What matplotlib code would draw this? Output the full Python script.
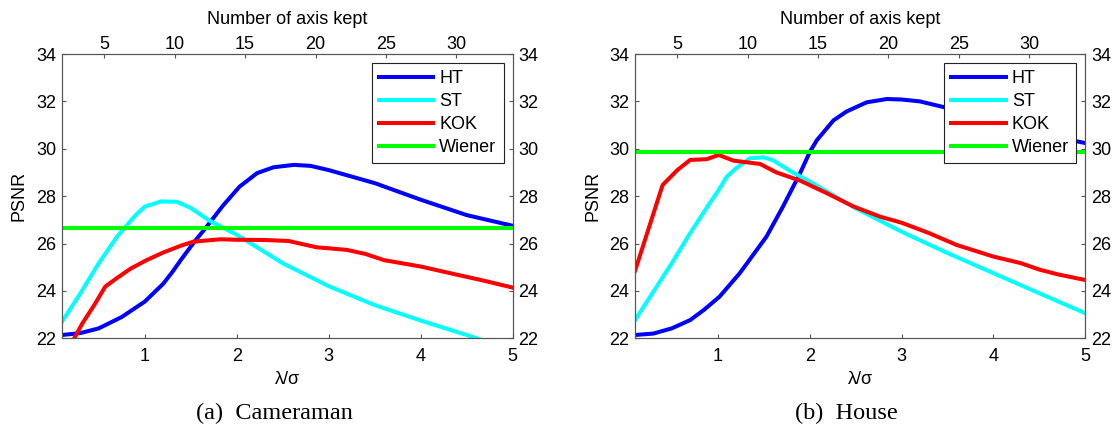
import matplotlib
matplotlib.use("Agg")
import matplotlib.pyplot as plt

plt.rcParams["font.family"] = ["Liberation Sans", "DejaVu Sans"]

# ---- (a) Cameraman ----
cam_ht_x = [0.1, 0.3, 0.5, 0.75, 1.0, 1.2, 1.3, 1.4, 1.54, 1.66, 1.85, 2.03, 2.22, 2.4, 2.62, 2.8, 3.0, 3.5, 4.0, 4.5, 5.0]
cam_ht_y = [22.14, 22.22, 22.42, 22.9, 23.55, 24.3, 24.8, 25.35, 26.08, 26.65, 27.6, 28.4, 28.97, 29.22, 29.32, 29.28, 29.1, 28.55, 27.85, 27.2, 26.75]

cam_st_x = [0.1, 0.3, 0.5, 0.7, 0.9, 1.0, 1.18, 1.35, 1.5, 1.71, 2.0, 2.5, 3.0, 3.5, 4.0, 4.5, 5.0]
cam_st_y = [22.7, 23.9, 25.17, 26.3, 27.2, 27.56, 27.78, 27.76, 27.5, 26.95, 26.37, 25.17, 24.2, 23.4, 22.75, 22.14, 21.5]

cam_kok_x = [0.1, 0.24, 0.32, 0.45, 0.57, 0.7, 0.85, 1.02, 1.2, 1.4, 1.53, 1.82, 2.0, 2.3, 2.56, 2.87, 3.0, 3.2, 3.4, 3.6, 4.0, 4.4, 4.7, 5.0]
cam_kok_y = [21.1, 22.05, 22.62, 23.4, 24.18, 24.55, 24.95, 25.3, 25.62, 25.92, 26.08, 26.18, 26.16, 26.15, 26.11, 25.84, 25.8, 25.73, 25.56, 25.3, 25.03, 24.68, 24.42, 24.14]

cam_wiener = 26.65

# ---- (b) House ----
hou_ht_x = [0.1, 0.3, 0.5, 0.7, 0.85, 1.02, 1.24, 1.4, 1.53, 1.71, 1.9, 2.0, 2.08, 2.26, 2.4, 2.62, 2.84, 3.0, 3.2, 3.5, 4.0, 4.5, 4.9, 5.0]
hou_ht_y = [22.14, 22.2, 22.42, 22.77, 23.2, 23.76, 24.75, 25.6, 26.29, 27.56, 29.0, 29.85, 30.37, 31.2, 31.57, 31.96, 32.1, 32.08, 32.0, 31.72, 31.2, 30.7, 30.32, 30.24]

hou_st_x = [0.1, 0.3, 0.5, 0.7, 0.9, 1.0, 1.1, 1.2, 1.35, 1.5, 1.6, 1.8, 2.0, 2.5, 3.0, 3.5, 4.0, 4.5, 5.0]
hou_st_y = [22.77, 23.97, 25.17, 26.44, 27.63, 28.2, 28.83, 29.18, 29.6, 29.64, 29.52, 29.04, 28.62, 27.49, 26.5, 25.6, 24.75, 23.9, 23.06]

hou_kok_x = [0.1, 0.4, 0.56, 0.7, 0.88, 1.01, 1.17, 1.46, 1.64, 1.9, 2.19, 2.48, 2.77, 3.0, 3.3, 3.6, 4.0, 4.3, 4.5, 4.7, 5.0]
hou_kok_y = [24.85, 28.47, 29.1, 29.53, 29.56, 29.74, 29.5, 29.36, 29.0, 28.65, 28.12, 27.56, 27.13, 26.88, 26.44, 25.94, 25.45, 25.17, 24.9, 24.7, 24.46]

hou_wiener = 29.85

labels = ["HT", "ST", "KOK", "Wiener"]
colors = ["#0000ff", "#00ffff", "#ff0000", "#00ff00"]
yticks = [22, 24, 26, 28, 30, 32, 34]
top_ticks = [5, 10, 15, 20, 25, 30]
bottom_ticks = [1, 2, 3, 4, 5]

fig = plt.figure(figsize=(11.19, 4.29), dpi=100)
spine_col = "#555555"
fs = 13


def panel(rect, series, wiener, caption, cap_x):
    ax = fig.add_axes(rect)
    for (xs, ys), lab, c in zip(series, labels[:3], colors[:3]):
        ax.plot(xs, ys, color=c, lw=2.9, label=lab, solid_joinstyle="round")
    ax.axhline(wiener, color=colors[3], lw=2.9, label=labels[3])
    ax.set_xlim(0.1, 5)
    ax.set_ylim(22, 34)
    ax.set_xticks(bottom_ticks)
    ax.set_yticks(yticks)
    ax.tick_params(direction="in", length=3, width=0.8, color=spine_col,
                   labelsize=fs, right=True, labelright=True)
    ax.tick_params(axis="x", pad=7)
    ax.tick_params(axis="y", pad=4)
    for s in ax.spines.values():
        s.set_color(spine_col)
        s.set_linewidth(0.8)
    ax.set_xlabel("λ/σ", fontsize=fs, labelpad=4)
    ax.set_ylabel("PSNR", fontsize=fs, labelpad=6)

    top = ax.twiny()
    top.set_xlim(2, 34)
    top.set_xticks(top_ticks)
    top.tick_params(direction="in", length=3, width=0.8, color=spine_col,
                    labelsize=fs, pad=0.5)
    for s in top.spines.values():
        s.set_color(spine_col)
        s.set_linewidth(0.8)
    top.set_xlabel("Number of axis kept", fontsize=fs, labelpad=9)

    leg = ax.legend(loc="upper right", fontsize=fs, fancybox=False, framealpha=1,
                    edgecolor="#222222", handlelength=3.0, handletextpad=0.35,
                    labelspacing=0.33, borderpad=0.4, borderaxespad=0.5)
    leg.get_frame().set_linewidth(0.8)
    leg.set_zorder(5)
    fig.text(cap_x, 0.0233, caption, ha="center", va="baseline",
             family=["Liberation Serif", "DejaVu Serif"], fontsize=17.5)
    return ax


panel([0.0554, 0.2114, 0.4028, 0.6627],
      [(cam_ht_x, cam_ht_y), (cam_st_x, cam_st_y), (cam_kok_x, cam_kok_y)],
      cam_wiener, "(a)  Cameraman", 0.2449)
panel([0.5675, 0.2114, 0.4024, 0.6627],
      [(hou_ht_x, hou_ht_y), (hou_st_x, hou_st_y), (hou_kok_x, hou_kok_y)],
      hou_wiener, "(b)  House", 0.756)

fig.savefig("out.png", dpi=100)
